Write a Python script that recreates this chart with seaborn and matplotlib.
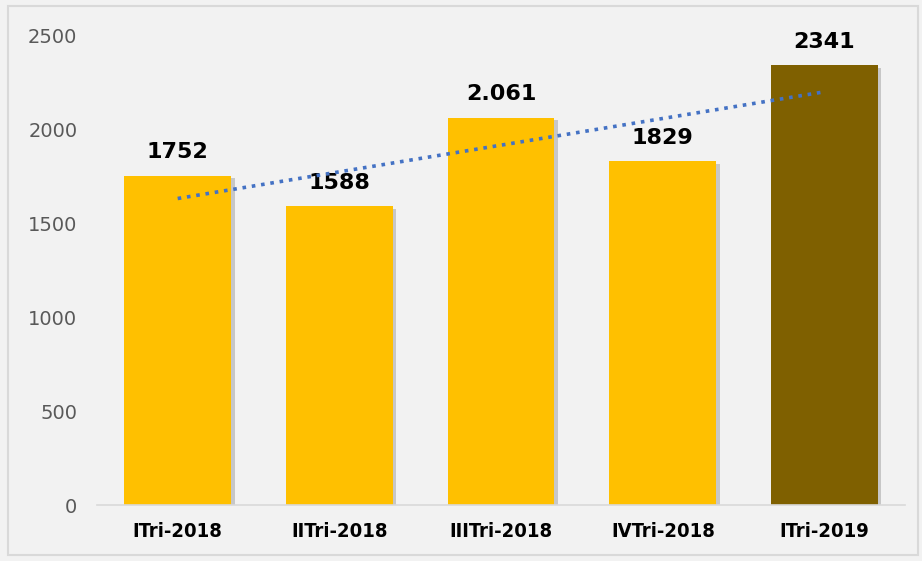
import numpy as np
import pandas as pd
import matplotlib
matplotlib.use("Agg")
import matplotlib.pyplot as plt
import matplotlib.patheffects as pe
from matplotlib.patches import Rectangle
import seaborn as sns

# dati del grafico
trimestri = ['ITri-2018', 'IITri-2018', 'IIITri-2018', 'IVTri-2018', 'ITri-2019']
valori = [1752, 1588, 2061, 1829, 2341]
etichette = ['1752', '1588', '2.061', '1829', '2341']
colori = ['#FFC000', '#FFC000', '#FFC000', '#FFC000', '#7F6000']

df = pd.DataFrame({'Trimestre': trimestri, 'Valore': valori})

sns.set_style('white')
plt.rcParams['font.family'] = ['DejaVu Sans']

fig = plt.figure(figsize=(9.22, 5.61), dpi=100, facecolor='#f2f2f2')
ax = fig.add_axes([0.105, 0.0998, 0.877, 0.8378])
ax.set_facecolor('#f2f2f2')

# cornice esterna
fig.patches.append(Rectangle((8 / 922, 6 / 561), 910 / 922, 549 / 561,
                             transform=fig.transFigure, fill=False,
                             edgecolor='#d9d9d9', linewidth=1.5))

sns.barplot(data=df, x='Trimestre', y='Valore', hue='Trimestre',
            palette=colori, legend=False, width=0.66, ax=ax,
            saturation=1, edgecolor='none')

# ombra delle barre
for p in ax.patches:
    p.set_path_effects([pe.SimplePatchShadow(offset=(2.5, -2), shadow_rgbFace='#666666', alpha=0.3),
                        pe.Normal()])

# etichette sopra le barre
for i, (v, t) in enumerate(zip(valori, etichette)):
    ax.text(i, v + 70, t, ha='center', va='bottom', fontsize=16,
            fontweight='bold', color='black')

# linea di tendenza lineare
xs = np.arange(len(valori))
coef = np.polyfit(xs, valori, 1)
ax.plot(xs[[0, -1]], np.polyval(coef, xs[[0, -1]]), linestyle=(0, (1, 1.6)),
        color='#4472C4', linewidth=2.6, zorder=5)

ax.set_ylim(0, 2500)
ax.set_xlim(-0.5, 4.5)
ax.set_yticks([0, 500, 1000, 1500, 2000, 2500])
ax.set_xlabel('')
ax.set_ylabel('')

for s in ['top', 'right', 'left']:
    ax.spines[s].set_visible(False)
ax.spines['bottom'].set_color('#d9d9d9')
ax.spines['bottom'].set_linewidth(1.2)

ax.tick_params(axis='y', length=0, pad=14, labelsize=14, labelcolor='#595959')
ax.tick_params(axis='x', length=0, pad=12)
for lab in ax.get_xticklabels():
    lab.set_fontfamily(['Liberation Sans Narrow', 'DejaVu Sans'])
    lab.set_fontstretch('condensed')
    lab.set_fontweight('bold')
    lab.set_fontsize(14.5)
    lab.set_color('black')

fig.savefig('out.png', dpi=100, facecolor=fig.get_facecolor())
